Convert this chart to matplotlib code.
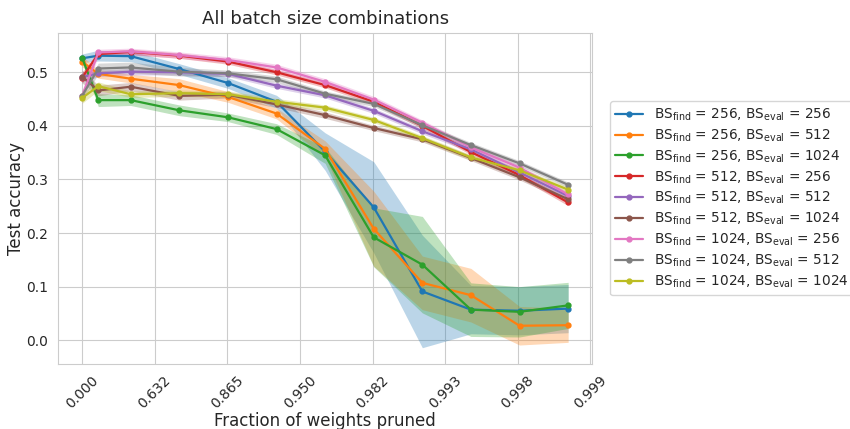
import numpy as np
import seaborn as sns
from matplotlib import pyplot as plt

sns.set_style("whitegrid")

# pruning rounds, 20% of remaining weights removed per round
rounds = [0, 1, 3, 6, 9, 12, 15, 18, 21, 24, 27, 30]
tick_pos = [0, 1, 2, 3, 4, 5, 6, 7]
tick_labels = ["%.3f" % (1 - np.exp(-k)) for k in tick_pos]

labels = [
    (256, 256), (256, 512), (256, 1024),
    (512, 256), (512, 512), (512, 1024),
    (1024, 256), (1024, 512), (1024, 1024),
]

acc_256_256 = [0.526, 0.531, 0.530, 0.506, 0.480, 0.445, 0.352, 0.248, 0.091, 0.057, 0.055, 0.059]
acc_256_512 = [0.520, 0.497, 0.488, 0.476, 0.454, 0.423, 0.357, 0.208, 0.107, 0.084, 0.027, 0.028]
acc_256_1024 = [0.527, 0.448, 0.448, 0.429, 0.416, 0.394, 0.345, 0.192, 0.141, 0.057, 0.053, 0.065]
acc_512_256 = [0.490, 0.534, 0.538, 0.531, 0.520, 0.500, 0.476, 0.445, 0.400, 0.351, 0.308, 0.257]
acc_512_512 = [0.491, 0.498, 0.501, 0.500, 0.497, 0.475, 0.457, 0.428, 0.390, 0.356, 0.313, 0.269]
acc_512_1024 = [0.492, 0.466, 0.473, 0.456, 0.458, 0.440, 0.420, 0.396, 0.375, 0.340, 0.304, 0.263]
acc_1024_256 = [0.455, 0.537, 0.539, 0.532, 0.523, 0.509, 0.482, 0.449, 0.406, 0.360, 0.322, 0.272]
acc_1024_512 = [0.456, 0.507, 0.509, 0.501, 0.498, 0.487, 0.460, 0.441, 0.401, 0.364, 0.330, 0.290]
acc_1024_1024 = [0.452, 0.474, 0.459, 0.461, 0.459, 0.445, 0.434, 0.411, 0.377, 0.341, 0.317, 0.281]

err_256_256 = [0.008, 0.01, 0.01, 0.01, 0.01, 0.012, 0.035, 0.085, 0.105, 0.045, 0.045, 0.045]
err_256_512 = [0.01, 0.008, 0.008, 0.012, 0.01, 0.01, 0.015, 0.07, 0.05, 0.05, 0.036, 0.032]
err_256_1024 = [0.008, 0.012, 0.01, 0.01, 0.008, 0.01, 0.015, 0.055, 0.09, 0.05, 0.047, 0.043]
err_512_256 = [0.01, 0.005, 0.005, 0.005, 0.005, 0.005, 0.005, 0.005, 0.005, 0.005, 0.005, 0.006]
err_512_512 = [0.01, 0.006, 0.006, 0.005, 0.005, 0.005, 0.005, 0.005, 0.005, 0.005, 0.005, 0.005]
err_512_1024 = [0.012, 0.01, 0.008, 0.008, 0.006, 0.006, 0.006, 0.005, 0.005, 0.005, 0.005, 0.005]
err_1024_256 = [0.012, 0.006, 0.006, 0.006, 0.006, 0.006, 0.006, 0.006, 0.005, 0.005, 0.005, 0.005]
err_1024_512 = [0.01, 0.01, 0.01, 0.008, 0.006, 0.006, 0.005, 0.005, 0.005, 0.005, 0.005, 0.005]
err_1024_1024 = [0.01, 0.008, 0.006, 0.006, 0.006, 0.006, 0.005, 0.005, 0.005, 0.005, 0.005, 0.005]

means = [acc_256_256, acc_256_512, acc_256_1024, acc_512_256, acc_512_512,
         acc_512_1024, acc_1024_256, acc_1024_512, acc_1024_1024]
errs = [err_256_256, err_256_512, err_256_1024, err_512_256, err_512_512,
        err_512_1024, err_1024_256, err_1024_512, err_1024_1024]

# x axis: -log(remaining fraction)
x = -np.array(rounds) * np.log(0.8)

fig = plt.figure(figsize=(8.5, 4.29), dpi=100)
ax = fig.add_subplot(111)
plt.subplots_adjust(left=0.068, right=0.697, top=0.924, bottom=0.152)

for i, ((bf, be), m, e) in enumerate(zip(labels, means, errs)):
    c = "C%d" % i
    m = np.array(m)
    e = np.array(e)
    lab = r"BS$_{\mathrm{find}}$ = %d, BS$_{\mathrm{eval}}$ = %d" % (bf, be)
    ax.plot(x, m, marker="o", markersize=3.5, linewidth=1.6, color=c, label=lab)
    ax.fill_between(x, m - e, m + e, color=c, alpha=0.3, linewidth=0)

ax.set_xticks(tick_pos)
ax.set_xticklabels(tick_labels, rotation=45)
ax.set_ylim(-0.044, 0.574)
ax.set_title("All batch size combinations", fontsize=13)
ax.set_xlabel("Fraction of weights pruned", fontsize=12, labelpad=0)
ax.set_ylabel("Test accuracy", fontsize=12, labelpad=1)
ax.legend(loc="center left", bbox_to_anchor=(1.02, 0.5), fontsize=9.8,
          frameon=True, labelspacing=0.33, handlelength=2.0, borderpad=0.4)

plt.savefig("out.png", dpi=100)
